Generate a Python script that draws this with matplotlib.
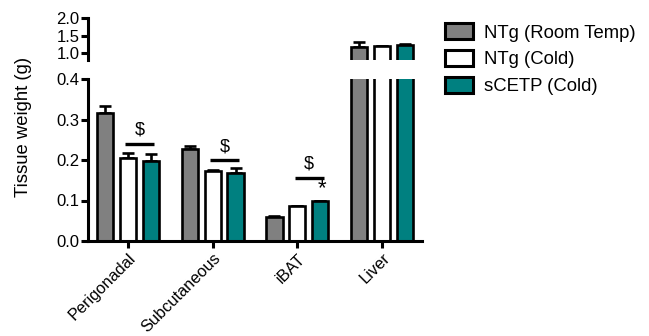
import matplotlib
matplotlib.use("Agg")
import matplotlib.pyplot as plt
import numpy as np

plt.rcParams['font.family'] = ['Liberation Sans', 'DejaVu Sans']

categories = ["Perigonadal", "Subcutaneous", "iBAT", "Liver"]
series = ["NTg (Room Temp)", "NTg (Cold)", "sCETP (Cold)"]
ntg_rt = [0.315, 0.226, 0.059, 1.17]
ntg_rt_err = [0.019, 0.008, 0.003, 0.15]
ntg_cold = [0.205, 0.173, 0.086, 1.20]
ntg_cold_err = [0.013, 0.002, 0.001, 0.01]
scetp_cold = [0.197, 0.168, 0.098, 1.24]
scetp_cold_err = [0.019, 0.013, 0.002, 0.01]
colors = ["#808080", "#ffffff", "#008080"]
sig_dollar_y = [0.24, 0.20, 0.156]   # bracket heights ($)
star_groups = [2]                   # '*' above sCETP bar

values = [ntg_rt, ntg_cold, scetp_cold]
errors = [ntg_rt_err, ntg_cold_err, scetp_cold_err]

W, H = 649, 336
fig = plt.figure(figsize=(W / 100, H / 100), dpi=100)
left, right = 88 / W, 422 / W
ax_lo = fig.add_axes([left, 1 - 241 / H, right - left, (241 - 79) / H])
ax_hi = fig.add_axes([left, 1 - 60 / H, right - left, (60 - 18) / H])

x = np.arange(len(categories))
offs = [-0.27, 0.0, 0.27]
bw = 0.19
lw = 1.9

for ax in (ax_lo, ax_hi):
    for i in range(3):
        ax.bar(x + offs[i], values[i], width=bw, color=colors[i], edgecolor="black",
               linewidth=lw, zorder=2)
        ax.errorbar(x + offs[i], values[i], yerr=[np.zeros(len(x)), errors[i]],
                    fmt="none", ecolor="black", elinewidth=lw, capsize=4.5,
                    capthick=lw, zorder=1)
    ax.set_xlim(-0.47, 3.47)
    ax.spines["top"].set_visible(False)
    ax.spines["right"].set_visible(False)
    ax.spines["left"].set_linewidth(2.2)
    ax.spines["bottom"].set_linewidth(2.2)
    ax.tick_params(axis="both", width=2.2, length=5, labelsize=12, pad=1)

ax_lo.set_ylim(0, 0.4)
ax_lo.set_yticks([0.0, 0.1, 0.2, 0.3, 0.4])
ax_lo.set_yticklabels(["0.0", "0.1", "0.2", "0.3", "0.4"])
ax_lo.set_xticks(x)
ax_lo.set_xticklabels(categories, rotation=45, ha="right", rotation_mode="anchor",
                      fontsize=11.8)
ax_lo.tick_params(axis="x", pad=2)

ax_hi.set_ylim(0.8, 2.0)
ax_hi.set_yticks([1.0, 1.5, 2.0])
ax_hi.set_yticklabels(["1.0", "1.5", "2.0"])
ax_hi.spines["bottom"].set_visible(False)
ax_hi.set_xticks([])

# significance marks
for g, yv in enumerate(sig_dollar_y):
    x0 = x[g] + offs[1] - 0.03
    x1 = x[g] + offs[2] + 0.04
    ax_lo.plot([x0, x1], [yv, yv], color="black", lw=2.4, solid_capstyle="butt")
    ax_lo.text((x0 + x1) / 2, yv + 0.012, "$", ha="center", va="bottom", fontsize=13)
for g in star_groups:
    ax_lo.text(x[g] + offs[2] + 0.02, scetp_cold[g] + 0.006, "*", ha="center",
               va="bottom", fontsize=16)

fig.text(24 / W, 1 - 127 / H, "Tissue weight (g)", rotation=90, ha="center",
         va="center", fontsize=13.3)

handles = [plt.Rectangle((0, 0), 1, 1, facecolor=c, edgecolor="black", linewidth=2.2)
           for c in colors]
fig.legend(handles, series, loc="upper left", bbox_to_anchor=(438 / W, 1 - 16 / H),
           frameon=False, fontsize=13.3, handlelength=1.5, handleheight=0.95,
           handletextpad=0.6, labelspacing=0.45, borderaxespad=0)

fig.savefig("out.png", dpi=100)
